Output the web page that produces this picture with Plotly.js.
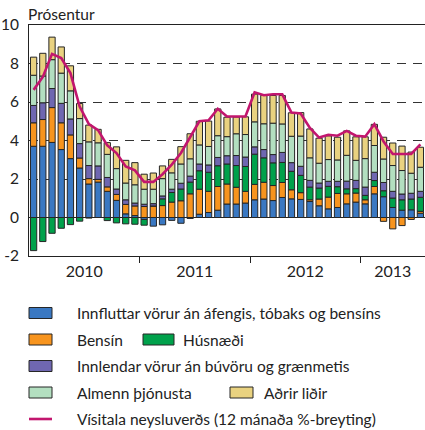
<!DOCTYPE html>
<html>
<head>
<meta charset="utf-8">
<script src="https://cdn.plot.ly/plotly-3.0.1.min.js"></script>
<style>html,body{margin:0;padding:0;background:#fff;}#chart{width:425px;height:430px;}</style>
</head>
<body>
<div id="chart"></div>
<script>
// Months: Jan 2010 - Jul 2013 (index 0..42)
const months = [
 '2010-01','2010-02','2010-03','2010-04','2010-05','2010-06','2010-07','2010-08','2010-09','2010-10','2010-11','2010-12',
 '2011-01','2011-02','2011-03','2011-04','2011-05','2011-06','2011-07','2011-08','2011-09','2011-10','2011-11','2011-12',
 '2012-01','2012-02','2012-03','2012-04','2012-05','2012-06','2012-07','2012-08','2012-09','2012-10','2012-11','2012-12',
 '2013-01','2013-02','2013-03','2013-04','2013-05','2013-06','2013-07'];

const importedGoods = [3.70,3.70,3.90,3.53,3.06,2.57,1.74,1.84,1.36,0.89,0.19,0.10,
 -0.10,-0.45,-0.38,-0.15,-0.30,-0.05,0.17,0.26,0.38,0.70,0.70,0.75,
 0.92,0.96,0.88,1.04,0.97,0.94,0.83,0.61,0.45,0.52,0.71,0.80,
 0.71,1.23,1.08,0.52,0.38,0.40,0.22];
const petrol = [1.22,1.39,1.81,1.39,1.23,0.52,0.28,0.14,0.23,0.31,0.49,0.50,
 0.57,0.60,0.62,0.80,0.87,1.23,1.30,1.10,1.23,1.04,0.87,0.61,
 0.80,0.87,0.78,0.78,0.47,0.35,0.09,0.35,0.61,0.73,0.52,0.47,
 0.21,0.38,-0.20,-0.59,-0.42,-0.10,0.10];
const housing = [-1.72,-1.25,-0.82,-0.56,-0.37,-0.19,-0.03,0.00,-0.16,-0.28,-0.33,-0.35,
 -0.30,0.00,0.35,0.50,0.61,0.61,0.96,0.99,1.08,1.04,1.13,1.29,
 1.57,1.27,1.18,1.04,0.96,0.90,0.66,0.57,0.56,0.35,0.26,0.23,
 0.23,0.31,0.31,0.49,0.54,0.56,0.73];
const domesticGoods = [0.90,0.87,0.99,1.01,0.83,0.75,0.68,0.70,0.49,0.28,0.24,0.15,
 0.12,0.12,0.15,0.17,0.30,0.31,0.35,0.38,0.43,0.43,0.52,0.49,
 0.38,0.43,0.43,0.52,0.45,0.47,0.35,0.26,0.26,0.28,0.40,0.43,
 0.43,0.43,0.43,0.35,0.30,0.30,0.31];
const services = [1.57,1.39,1.50,1.57,1.46,1.30,1.23,1.20,1.20,1.06,0.87,0.95,
 0.78,0.75,0.90,0.85,1.00,0.90,0.99,0.96,1.13,0.99,1.13,1.17,
 1.30,1.34,1.63,1.48,1.37,1.57,1.17,1.03,1.13,1.11,1.34,1.04,
 1.48,1.39,1.22,1.34,1.22,1.04,1.25];
const otherItems = [0.94,1.18,1.17,1.36,1.30,0.78,0.87,0.70,0.61,1.13,1.18,1.15,
 0.78,0.84,0.66,0.70,0.90,1.30,1.23,1.32,1.39,1.01,0.87,0.92,
 1.44,1.48,1.44,1.48,1.22,1.22,1.50,1.30,1.23,1.18,1.27,1.22,
 1.13,1.10,1.13,1.17,1.27,1.10,1.04];
const cpi = [6.63,7.30,8.50,8.28,7.50,5.76,4.85,4.54,3.75,3.35,2.65,2.45,
 1.85,1.85,2.25,2.75,3.35,4.15,5.00,5.05,5.65,5.25,5.25,5.25,
 6.50,6.35,6.40,6.40,5.45,5.40,4.65,4.15,4.30,4.25,4.50,4.25,
 4.20,4.85,3.95,3.30,3.30,3.30,3.80];

const yearLabels = ['2010','2011','2012','2013'];
const seriesNames = ['Innfluttar vörur án áfengis, tóbaks og bensíns','Bensín','Húsnæði',
 'Innlendar vörur án búvöru og grænmetis','Almenn þjónusta','Aðrir liðir',
 'Vísitala neysluverðs (12 mánaða %-breyting)'];
const colors = ['#3a78c2','#f7941e','#00a14b','#6f67b1','#b3dfc0','#e9d280','#c2166e'];

const idx = months.map((m,i)=>i);
const barSeries = [importedGoods, petrol, housing, domesticGoods, services, otherItems];
const traces = barSeries.map((vals,k)=>({
  type:'bar', x: idx, y: vals, name: seriesNames[k],
  marker:{color: colors[k], line:{color:'#262626', width:1}},
  hoverinfo:'y', showlegend:false
}));
traces.push({type:'scatter', mode:'lines', x: idx, y: cpi, name: seriesNames[6],
  line:{color: colors[6], width:2.6, shape:'linear'}, showlegend:false});

// year label positions = centre of each year's months
const yearPos = yearLabels.map(y=>{
  const ii = months.map((m,i)=>m.startsWith(y)?i:null).filter(v=>v!==null);
  return (ii[0]+ii[ii.length-1])/2;
});
const yearBounds = yearLabels.slice(1).map(y=>months.findIndex(m=>m.startsWith(y))-0.5);

// plot geometry (pixels) for the hand-drawn legend
const L=29, T=25, W=396, H=231;
const px = x=>(x-L)/W, py = y=>(T+H-y)/H;
const FONT = 'Lato, "Open Sans", sans-serif';
const shapes=[], annotations=[];
function swatch(x0,x1,yc,col){
  shapes.push({type:'rect', xref:'paper', yref:'paper', x0:px(x0), x1:px(x1), y0:py(yc+5.5), y1:py(yc-5.5),
    fillcolor:col, line:{color:'#262626', width:1}});
}
function label(x,yc,text){
  annotations.push({xref:'paper', yref:'paper', x:px(x), y:py(yc), xanchor:'left', yanchor:'middle',
    text:text, showarrow:false, font:{family:FONT, size:15.5, color:'#222'}});
}
const rows=[313,339.5,366,392.5,419];
swatch(29,52,rows[0],colors[0]); label(75,rows[0],seriesNames[0]);
swatch(29,52,rows[1],colors[1]); label(75,rows[1],seriesNames[1]);
swatch(143,174,rows[1],colors[2]); label(181,rows[1],seriesNames[2]);
swatch(29,52,rows[2],colors[3]); label(75,rows[2],seriesNames[3]);
swatch(29,52,rows[3],colors[4]); label(75,rows[3],seriesNames[4]);
swatch(230,253,rows[3],colors[5]); label(262,rows[3],seriesNames[5]);
shapes.push({type:'line', xref:'paper', yref:'paper', x0:px(29), x1:px(52), y0:py(rows[4]), y1:py(rows[4]),
  line:{color:colors[6], width:2.6}});
label(75,rows[4],seriesNames[6]);

annotations.push({xref:'paper', yref:'paper', x:px(26), y:py(14), xanchor:'left', yanchor:'middle',
  text:'Prósentur', showarrow:false, font:{family:FONT, size:15.5, color:'#222'}});

const layout = {
  width:425, height:430,
  margin:{l:L, r:0, t:T, b:430-T-H, pad:0},
  paper_bgcolor:'#fff', plot_bgcolor:'#fff',
  barmode:'relative', bargap:0.32,
  font:{family:FONT, size:15, color:'#222'},
  showlegend:false,
  xaxis:{range:[-0.5, months.length-0.5], showgrid:false, zeroline:false,
    showline:true, mirror:true, linecolor:'#222', linewidth:1,
    tickmode:'array', tickvals:yearPos, ticktext:yearLabels, ticks:'',
    tickfont:{family:FONT, size:16, color:'#222'}, ticklabelstandoff:1,
    minor:{tickmode:'array', tickvals:yearBounds, ticks:'outside', ticklen:6, tickcolor:'#222', tickwidth:1, showgrid:false}},
  yaxis:{range:[-2,10], tickmode:'array', tickvals:[-2,0,2,4,6,8,10], ticktext:['-2','0','2','4','6','8','10'],
    showline:true, linecolor:'#222', linewidth:1, ticks:'',
    showgrid:true, gridcolor:'#333', gridwidth:1, griddash:'9px,7px',
    zeroline:true, zerolinecolor:'#222', zerolinewidth:1,
    tickfont:{family:FONT, size:15.5, color:'#222'}, ticklabelstandoff:6},
  shapes:shapes, annotations:annotations
};
Plotly.newPlot('chart', traces, layout, {staticPlot:true, displayModeBar:false});
</script>
</body>
</html>
